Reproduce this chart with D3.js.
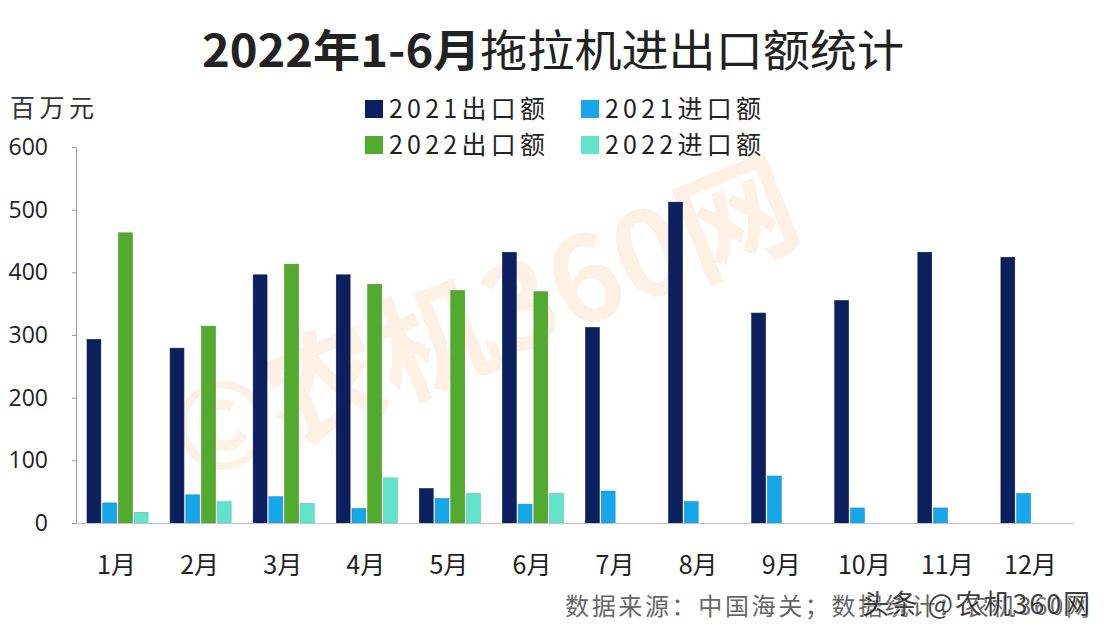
<!DOCTYPE html>
<html><head><meta charset="utf-8">
<script src="https://cdn.jsdelivr.net/npm/d3@7"></script>
<style>body{margin:0;background:#fff;} svg{display:block;font-family:"Noto Sans CJK SC","Noto Sans",sans-serif;}</style>
</head><body>
<svg id="c" width="1108" height="630"></svg>
<script>
const months = ["1月","2月","3月","4月","5月","6月","7月","8月","9月","10月","11月","12月"];
const seriesNames = ["2021出口额","2021进口额","2022出口额","2022进口额"];
const export2021 = [293,279,396,396,55,432,312,512,335,355,432,424];
const import2021 = [32,45,42,23,39,30,51,34,75,24,24,47];
const export2022 = [463,314,413,381,371,369,null,null,null,null,null,null];
const import2022 = [17,34,31,72,47,47,null,null,null,null,null,null];
const yTicks = [0,100,200,300,400,500,600];
const colors = ["#0c1f5e","#16a6ea","#52aa2f","#62e4cb"];

(function(){
const svg = d3.select("#c");
const pl=76, pr=1073, pt=147, pb=523;
const y = d3.scaleLinear().domain([0,600]).range([pb, pt]);
const x0 = d3.scaleBand().domain(months).range([pl,pr]).paddingInner(0.265).paddingOuter(0.1325);
const x1 = d3.scaleBand().domain(seriesNames).range([0,x0.bandwidth()]).paddingInner(0.12);
const allSeries = [export2021, import2021, export2022, import2022];

// background watermark
svg.append("text").attr("transform","translate(500,360) rotate(-22)")
  .attr("text-anchor","middle").attr("font-size",118).attr("font-weight","bold")
  .attr("fill","#f9c99a").attr("opacity",0.24).text("©农机360网");

// title
const t = svg.append("text").attr("x",553).attr("y",67).attr("text-anchor","middle")
  .attr("font-size",44).attr("fill","#222").attr("textLength",702).attr("lengthAdjust","spacingAndGlyphs");
t.append("tspan").attr("font-weight","bold").text("2022年1-6月");
t.append("tspan").text("拖拉机进出口额统计");

// unit
svg.append("text").attr("x",10).attr("y",117).attr("font-size",25).attr("fill","#333")
  .attr("textLength",84).text("百万元");

// legend
const legPos = [[365,109],[581,109],[365,145],[581,145]];
seriesNames.forEach((s,i)=>{
  const [lx,ly]=legPos[i];
  svg.append("rect").attr("x",lx).attr("y",ly-9).attr("width",18).attr("height",18).attr("fill",colors[i]);
  svg.append("text").attr("x",lx+24).attr("y",ly+9).attr("font-size",25).attr("fill","#222")
    .attr("textLength",156).attr("lengthAdjust","spacing").text(s);
});

// y axis
const yAxis = d3.axisLeft(y).tickValues(yTicks).tickSize(4).tickFormat("");
const ya = svg.append("g").attr("transform",`translate(${pl},0)`).call(yAxis);
ya.selectAll("path,line").attr("stroke","#9a9aa0");
svg.append("g").selectAll("text").data(yTicks).join("text")
  .attr("x",48).attr("y",d=>y(d)+8).attr("text-anchor","end").attr("font-size",23)
  .attr("font-family","'Open Sans',sans-serif").attr("fill","#222").text(d=>d);

// bars
const g = svg.append("g");
months.forEach((m,mi)=>{
  allSeries.forEach((arr,si)=>{
    const v = arr[mi];
    if(v==null) return;
    g.append("rect").attr("x",x0(m)+x1(seriesNames[si])).attr("width",x1.bandwidth())
      .attr("y",y(v)).attr("height",y(0)-y(v)).attr("fill",colors[si])
      .attr("stroke",d3.color(colors[si]).darker(0.4)).attr("stroke-width",0.6);
  });
});

// x axis
const xAxis = d3.axisBottom(x0).tickSize(0).tickFormat("");
const xa = svg.append("g").attr("transform",`translate(0,${pb})`).call(xAxis);
xa.select("path").attr("stroke","#c4c4c8");
svg.append("g").selectAll("text").data(months).join("text")
  .attr("x",d=>x0(d)+x0.bandwidth()/2-1).attr("y",574).attr("text-anchor","middle")
  .attr("font-size",25).attr("fill","#222").text(d=>d);

// source
svg.append("text").attr("x",565).attr("y",615).attr("font-size",24).attr("fill","#666")
  .attr("textLength",525).text("数据来源：中国海关；数据统计：农机360网");
svg.append("text").attr("x",862).attr("y",614).attr("font-size",27).attr("fill","#222")
  .attr("stroke","#fff").attr("stroke-width",0.8).attr("paint-order","stroke")
  .attr("opacity",0.85).attr("textLength",228).text("头条 @农机360网");
})();
</script>
</body></html>
